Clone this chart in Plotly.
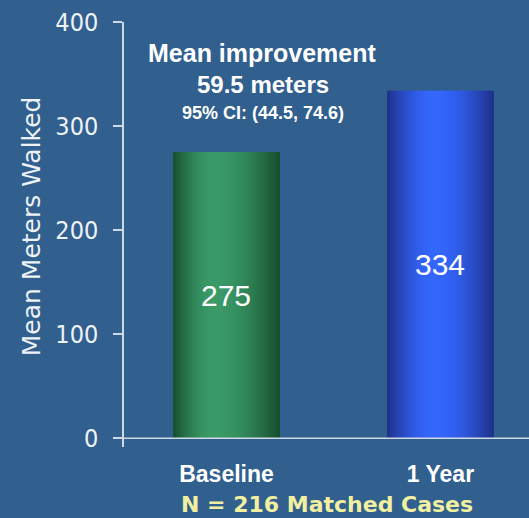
import math
import plotly.graph_objects as go

# Walking distance, matched cases
categories = ["Baseline", "1 Year"]
mean_meters = [275, 334]
improvement_text = ["Mean improvement", "59.5 meters", "95% CI: (44.5, 74.6)"]
footnote = "N = 216 Matched Cases"
y_ticks = [0, 100, 200, 300, 400]

BG = "#31608f"
AXIS = "#cfd9e3"
BAR_W = 0.5
STRIPS = 40

# (dark edge, bright highlight, highlight position across the bar)
bar_styles = [
    ((22, 78, 44), (58, 154, 104), 0.38),
    ((30, 48, 138), (52, 102, 252), 0.45),
]


def shade(style, u):
    dark, light, peak = style
    if u < peak:
        t = math.sin(math.pi / 2 * u / peak)
    else:
        t = math.sin(math.pi / 2 * (1 - u) / (1 - peak))
    c = [round(d + (l - d) * t) for d, l in zip(dark, light)]
    return f"rgb({c[0]},{c[1]},{c[2]})"


xs = list(range(len(categories)))
fig = go.Figure()

# cylinder-like shading built from thin vertical strips of each bar
step = BAR_W / STRIPS
for k in range(STRIPS):
    u = (k + 0.5) / STRIPS
    off = -BAR_W / 2 + k * step
    fig.add_trace(go.Bar(
        x=xs, y=mean_meters,
        offset=off, width=min(step * 1.8, BAR_W / 2 - off),
        marker=dict(color=[shade(s, u) for s in bar_styles], line=dict(width=0)),
        hoverinfo="skip", showlegend=False,
    ))

# value labels at mid-height of each bar
for x, v in zip(xs, mean_meters):
    fig.add_annotation(x=x, y=v / 2, text=str(v), showarrow=False,
                       font=dict(family="Liberation Sans, Arial", size=30, color="white"))

# y = 0 baseline
fig.add_shape(type="line", xref="paper", yref="y", x0=0, x1=1, y0=0, y1=0,
              line=dict(color=AXIS, width=1.5))

head_font = dict(family="Liberation Sans, Arial", color="white", weight="bold")
for txt, yp, size in [(improvement_text[0], 0.927, 25),
                      (improvement_text[1], 0.854, 24),
                      (improvement_text[2], 0.786, 18)]:
    fig.add_annotation(xref="paper", yref="paper", x=0.342, y=yp, text=txt,
                       xanchor="center", yanchor="middle", showarrow=False,
                       font=dict(size=size, **head_font))

fig.add_annotation(xref="paper", yref="paper", x=0.501, y=-0.136, text=footnote,
                   xanchor="center", yanchor="middle", showarrow=False,
                   font=dict(family="DejaVu Sans", size=22, color="#f2f0a0", weight="bold"))

fig.add_annotation(xref="paper", yref="paper", x=-0.229, y=0.52, text="Mean Meters Walked",
                   xanchor="center", yanchor="middle", textangle=-90, showarrow=False,
                   font=dict(family="DejaVu Sans", size=25, color="#eef2f6"))

fig.update_layout(
    width=529, height=518,
    margin=dict(l=124, r=0, t=22, b=71),
    paper_bgcolor=BG, plot_bgcolor=BG,
    barmode="overlay",
    xaxis=dict(
        range=[-0.479, 1.414], tickvals=xs, ticktext=categories,
        showline=False, showgrid=False, zeroline=False, ticks="",
        tickfont=dict(family="Liberation Sans, Arial", size=23, color="white", weight="bold"),
        ticklabelstandoff=11,
    ),
    yaxis=dict(
        range=[-8.5, 400], tickvals=y_ticks,
        showline=True, linecolor=AXIS, linewidth=1.5,
        ticks="outside", ticklen=9, tickcolor=AXIS, tickwidth=1.5,
        showgrid=False, zeroline=False,
        tickfont=dict(family="DejaVu Sans Condensed, DejaVu Sans", size=25, color="#eef2f6"),
        ticklabelstandoff=10,
    ),
)

fig.write_html("out.html")
